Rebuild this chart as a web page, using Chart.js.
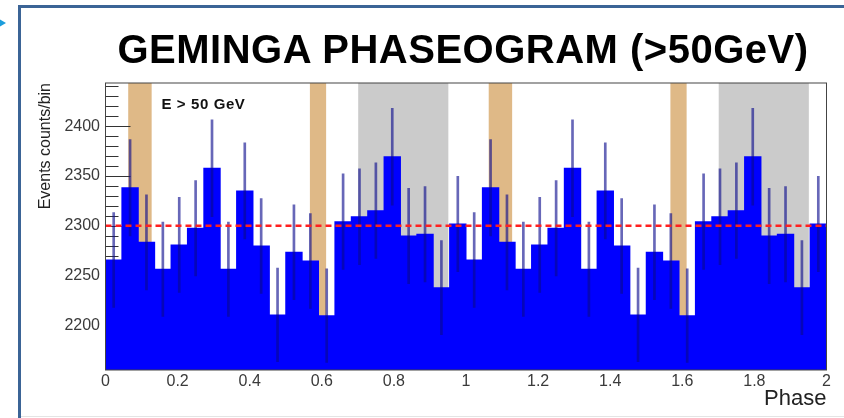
<!DOCTYPE html>
<html>
<head>
<meta charset="utf-8">
<script src="https://cdn.jsdelivr.net/npm/chart.js@4.4.1/dist/chart.umd.min.js"></script>
<style>
  html, body { margin: 0; padding: 0; background: #fff; }
  body { width: 844px; height: 418px; position: relative; overflow: hidden; font-family: "Liberation Sans", Arial, sans-serif; }
  #wrap { position: absolute; left: 0; top: 0; width: 844px; height: 418px; }
  #frame { position: absolute; left: 18px; top: 5px; width: 900px; height: 500px; border-left: 3px solid #3b6496; border-top: 3px solid #3b6496; }
  #bottomLine { position: absolute; left: 21px; top: 416px; width: 823px; height: 1px; background: #e4e4e4; }
  #arrow { position: absolute; left: -1px; top: 19px; width: 0; height: 0; border-left: 7px solid #1c9ddc; border-top: 4.5px solid transparent; border-bottom: 4.5px solid transparent; }
  #title { position: absolute; left: 117.5px; top: 29.4px; font: bold 40px/40px "Liberation Sans", Arial, sans-serif; letter-spacing: 0.5px; color: #000; white-space: nowrap; }
  #elabel { position: absolute; left: 161.5px; top: 95.6px; font: bold 15px/15px "Liberation Sans", Arial, sans-serif; letter-spacing: 0.6px; color: #111; white-space: nowrap; }
</style>
</head>
<body>
<div id="frame"></div>
<div id="bottomLine"></div>
<div id="arrow"></div>
<div id="wrap"><canvas id="phaseChart"></canvas></div>
<div id="title">GEMINGA PHASEOGRAM (&gt;50GeV)</div>
<div id="elabel">E &gt; 50 GeV</div>
<script>
// counts per phase bin (22 bins per phase); the plot shows two cycles
const counts = [2265.6, 2338.3, 2283.4, 2256.3, 2280.7, 2297.5, 2357.8, 2256.3, 2335.0, 2279.7, 2210.4,
                2273.4, 2264.6, 2209.6, 2304.1, 2309.1, 2315.2, 2369.4, 2289.7, 2291.5, 2237.8, 2301.8];
const errors = [47.6, 48.4, 47.8, 47.5, 47.8, 47.9, 48.6, 47.5, 48.3, 47.7, 47.0,
                47.7, 47.6, 47.0, 48.0, 48.1, 48.1, 48.7, 47.9, 47.9, 47.3, 48.0];
const cycles = [0, 1];
const meanLevel = 2300;
const yTickValues = [2200, 2250, 2300, 2350, 2400];
const xTickValues = [0, 0.2, 0.4, 0.6, 0.8, 1, 1.2, 1.4, 1.6, 1.8, 2];
const xTickLabels = ['0', '0.2', '0.4', '0.6', '0.8', '1', '1.2', '1.4', '1.6', '1.8', '2'];
const tanBands = [[0.063, 0.128], [0.567, 0.612], [1.063, 1.128], [1.567, 1.612]];
const grayBands = [[0.701, 0.951], [1.701, 1.951]];

const nBins = counts.length;
const histData = [];
const errData = [];
cycles.forEach(c => {
    counts.forEach((v, i) => {
        const x = c + (i + 0.5) / nBins;
        histData.push({ x: x, y: v });
        errData.push({ x: x, y: [v - errors[i], v + errors[i]] });
    });
});

// bands + inner ticks under the histogram, frame on top
const decoPlugin = {
    id: 'deco',
    beforeDatasetsDraw(chart) {
        const { ctx, chartArea: a, scales: { x, y } } = chart;
        ctx.save();
        ctx.fillStyle = '#dfb987';
        tanBands.forEach(b => {
            ctx.fillRect(x.getPixelForValue(b[0]), a.top, x.getPixelForValue(b[1]) - x.getPixelForValue(b[0]), a.bottom - a.top);
        });
        ctx.fillStyle = '#cbcbcb';
        grayBands.forEach(b => {
            ctx.fillRect(x.getPixelForValue(b[0]), a.top, x.getPixelForValue(b[1]) - x.getPixelForValue(b[0]), a.bottom - a.top);
        });
        ctx.strokeStyle = '#333';
        ctx.lineWidth = 1;
        for (let v = 2160; v <= y.max; v += 10) {
            const py = Math.round(y.getPixelForValue(v)) + 0.5;
            const len = (v % 50 === 0) ? 25 : 13;
            ctx.beginPath();
            ctx.moveTo(a.left, py);
            ctx.lineTo(a.left + len, py);
            ctx.stroke();
        }
        ctx.restore();
    },
    afterDraw(chart) {
        const { ctx, chartArea: a } = chart;
        ctx.save();
        ctx.strokeStyle = '#444';
        ctx.lineWidth = 1;
        ctx.strokeRect(a.left, a.top, a.right - a.left, a.bottom - a.top);
        ctx.restore();
    }
};

new Chart(document.getElementById('phaseChart'), {
    type: 'bar',
    data: {
        datasets: [
            {
                type: 'line',
                data: [{ x: 0, y: meanLevel }, { x: 2, y: meanLevel }],
                borderColor: '#ff2020',
                borderWidth: 2.5,
                borderDash: [6, 4],
                pointRadius: 0,
                order: 0
            },
            {
                data: errData,
                backgroundColor: 'rgba(10,10,140,0.62)',
                barThickness: 2,
                grouped: false,
                order: 1
            },
            {
                data: histData,
                backgroundColor: '#0000ff',
                borderWidth: 0,
                barPercentage: 1,
                categoryPercentage: 1,
                inflateAmount: 0.5,
                grouped: false,
                order: 2
            }
        ]
    },
    options: {
        responsive: true,
        maintainAspectRatio: false,
        animation: false,
        layout: { padding: { left: 0, top: 83, right: 17.5, bottom: 0 } },
        plugins: { legend: { display: false }, tooltip: { enabled: false }, title: { display: false } },
        scales: {
            x: {
                type: 'linear',
                min: 0,
                max: 2,
                offset: false,
                grid: { display: false, drawTicks: false },
                border: { display: false },
                afterBuildTicks: s => { s.ticks = xTickValues.map(v => ({ value: v })); },
                afterFit: s => { s.height = 48; },
                ticks: {
                    padding: 2,
                    color: '#3a3a3a',
                    font: { family: 'Liberation Sans', size: 16 },
                    maxRotation: 0,
                    autoSkip: false,
                    callback: (v, i) => xTickLabels[i]
                },
                title: {
                    display: true,
                    text: 'Phase',
                    align: 'end',
                    color: '#222',
                    font: { family: 'Liberation Sans', size: 22 },
                    padding: { top: 0, bottom: 6 }
                }
            },
            y: {
                min: 2155,
                max: 2443.5,
                grid: { display: false, drawTicks: false },
                border: { display: false },
                afterBuildTicks: s => { s.ticks = yTickValues.map(v => ({ value: v })); },
                afterFit: s => { s.width = 105.5; },
                ticks: {
                    padding: 5.5,
                    color: '#3a3a3a',
                    font: { family: 'Liberation Sans', size: 16 },
                    callback: v => String(v)
                },
                title: {
                    display: true,
                    text: 'Events counts/bin',
                    align: 'end',
                    color: '#222',
                    font: { family: 'Liberation Sans', size: 16 },
                    padding: { top: 36, bottom: 0 }
                }
            }
        }
    },
    plugins: [decoPlugin]
});
</script>
</body>
</html>
